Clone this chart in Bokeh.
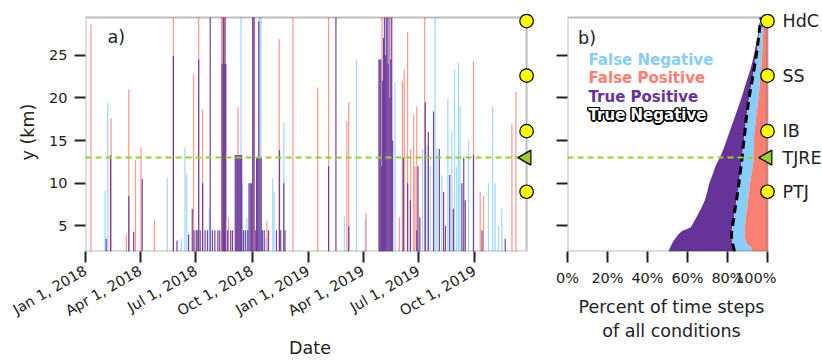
import math
import numpy as np
import pandas as pd
from bokeh.plotting import figure
from bokeh.layouts import row
from bokeh.core.properties import value
from bokeh.models import (Range1d, FixedTicker, DatetimeTickFormatter, PrintfTickFormatter,
                          BoxAnnotation, Label, ColumnDataSource)
from bokeh.embed import file_html
from bokeh.resources import INLINE

# ---------------- data ----------------
start_date = "2018-01-01"
end_day = 723                      # last time step, days after start_date
y_bottom, y_top = 2.0, 29.4

# False negatives: day offset from start_date, top height (km)
fn_day = [32, 36.5, 134, 157, 163, 166, 203, 255, 257, 264.5,
          285.5, 287.5, 296, 307, 309, 325, 424.5, 444, 458.5, 507.5,
          552.5, 560, 565, 573, 576, 584, 594, 600.5, 605, 608.5,
          611.5, 614, 628, 660.5, 667.5, 671.5, 677, 682.5]
fn_top = [9.1, 19.4, 10.7, 3.5, 14.2, 11.0, 7.0, 29.4, 10.0, 6.0,
          29.4, 29.4, 3.5, 10.6, 9.0, 17.1, 6.1, 24.5, 5.8, 21.8,
          14.0, 14.5, 12.0, 29.4, 14.0, 11.0, 19.9, 16.0, 23.3, 12.0,
          24.1, 19.0, 15.0, 10.0, 19.0, 10.0, 5.0, 7.0]

# False positives
fp_day = [9, 42, 67, 71, 82, 91, 113, 144, 177, 185.5,
          192, 223, 225, 229, 234.5, 250, 277, 297.5, 317.5, 340,
          380.5, 398.5, 428.5, 431.5, 460, 486, 500.5, 514.5, 519.5, 522.5,
          528, 533, 538, 540, 543, 556, 636, 647, 652.5, 699,
          705.5]
fp_top = [28.6, 17.6, 4.0, 21.0, 12.7, 14.2, 5.7, 29.4, 22.8, 29.4,
          18.6, 29.4, 29.4, 29.4, 5.9, 18.9, 29.4, 5.6, 26.9, 29.4,
          21.2, 29.4, 17.3, 19.5, 6.5, 29.4, 29.4, 6.0, 22.0, 23.3,
          27.7, 14.0, 18.0, 12.0, 19.0, 29.4, 24.3, 9.0, 8.5, 16.9,
          20.7]

# True positives
tp_day = [34, 41, 71, 79, 93, 144, 150, 169, 175, 178,
          181.5, 183, 185.5, 188, 192, 196, 200, 204.5, 208, 212,
          217, 220, 224, 226, 227.5, 228.5, 230, 233, 238, 241,
          245.5, 247, 248.5, 250, 251.5, 253, 254.5, 256, 259, 262,
          266, 268, 270, 272, 274, 276, 279, 280.5, 282, 284,
          286, 288, 290, 293, 300, 313, 318, 320, 325, 327,
          398.5, 410.5, 431.5, 481, 482.5, 484, 485.5, 487, 488.5, 490,
          491.5, 493, 494.5, 496, 497.5, 499, 500.5, 502, 503.5, 521,
          528, 532.5, 543, 545, 548, 557, 562, 570.5, 580, 587,
          590, 597, 603, 617, 620, 622.5, 636, 650, 688]
tp_top = [3.5, 13.3, 8.5, 4.3, 10.5, 24.9, 3.3, 4.0, 7.0, 4.5,
          4.5, 4.5, 24.5, 4.5, 10.0, 4.5, 4.5, 29.4, 4.5, 4.5,
          4.5, 4.5, 24.0, 29.4, 24.0, 29.4, 24.0, 4.5, 4.5, 4.5,
          13.3, 13.3, 13.3, 13.3, 13.3, 13.3, 13.3, 13.3, 4.5, 4.5,
          4.5, 10.0, 10.0, 10.0, 29.4, 29.4, 4.5, 13.0, 13.0, 29.0,
          13.0, 13.0, 4.5, 4.5, 4.5, 4.5, 13.9, 4.5, 10.0, 4.5,
          12.0, 29.4, 5.0, 24.5, 24.5, 24.5, 12.0, 22.0, 27.0, 29.4,
          25.0, 29.4, 29.4, 24.0, 29.4, 20.0, 24.5, 29.4, 15.0, 13.0,
          10.0, 8.0, 4.5, 12.0, 6.0, 19.5, 16.0, 18.4, 14.0, 9.0,
          5.0, 11.0, 7.0, 10.0, 13.0, 8.0, 13.3, 4.5, 3.5]

date_ticks = ["2018-01-01", "2018-04-01", "2018-07-01", "2018-10-01",
              "2019-01-01", "2019-04-01", "2019-07-01", "2019-10-01"]
y_ticks = [5, 10, 15, 20, 25]
pct_ticks = [0, 20, 40, 60, 80, 100]

stations = ["HdC", "SS", "IB", "TJRE", "PTJ"]
station_y = [29.0, 22.6, 16.1, 13.0, 9.0]
station_marker = ["circle", "circle", "circle", "triangle", "circle"]

# Panel b: percent of time steps per height level
prof_y = [2.0, 2.5, 3.0, 3.5, 4.0, 4.4, 4.6, 4.8, 5.0, 6.0, 7.0, 8.0, 9.0, 10.0, 11.0, 12.0,
          13.0, 14.0, 15.0, 16.0, 17.0, 18.0, 19.0, 20.0, 21.0, 22.0, 23.0, 24.0, 25.0,
          26.0, 27.0, 28.0, 29.0, 29.4]
tn_pct = [50.4, 51.4, 52.4, 53.8, 55.4, 57.2, 59.5, 61.5, 62.0, 64.5, 66.7, 68.7, 69.9, 70.9,
          72.5, 74.0, 76.2, 78.0, 79.5, 81.0, 82.5, 84.0, 85.5, 87.0, 88.3, 89.6, 91.0, 92.2,
          93.2, 94.0, 95.0, 95.6, 96.2, 96.5]
tp_pct = [33.1, 31.6, 30.0, 28.3, 26.6, 24.9, 22.7, 20.8, 20.5, 18.7, 17.1, 15.8, 15.2, 14.8,
          13.7, 12.8, 11.1, 9.7, 8.7, 7.7, 6.6, 5.6, 4.7, 3.8, 3.2, 2.7, 2.0, 1.5,
          1.2, 1.0, 0.5, 0.4, 0.3, 0.3]
fn_pct = [8.5, 8.8, 7.1, 6.7, 6.6, 6.5, 6.5, 6.4, 6.3, 6.0, 6.0, 5.8, 5.7, 5.5,
          5.8, 5.8, 5.9, 5.5, 5.0, 4.8, 4.9, 4.8, 4.8, 4.7, 4.4, 3.9, 3.6, 3.3,
          2.9, 2.5, 2.2, 1.9, 1.5, 1.2]
fp_pct = [8.0, 8.2, 10.5, 11.2, 11.4, 11.4, 11.3, 11.3, 11.2, 10.8, 10.2, 9.7, 9.2, 8.8,
          8.0, 7.4, 6.8, 6.8, 6.8, 6.5, 6.0, 5.6, 5.0, 4.5, 4.1, 3.8, 3.4, 3.0,
          2.7, 2.5, 2.3, 2.1, 2.0, 2.0]

# ---------------- styling ----------------
FONT = "DejaVu Sans"
C_FN, C_FP, C_TP = "#87CEFA", "#FA8072", "#663399"
C_GREEN = "#9ACD32"
INK = "#222222"
DAY_MS = 86400000.0
T0 = pd.Timestamp(start_date).value / 1e6


def ms(days):
    return T0 + np.asarray(days, dtype=float) * DAY_MS


def style_axes(p):
    p.outline_line_color = None
    p.grid.visible = False
    p.background_fill_color = "white"
    p.border_fill_color = "white"
    for ax in p.axis:
        ax.axis_line_color = None
        ax.major_tick_out = 11
        ax.major_tick_in = 0
        ax.major_tick_line_width = 2
        ax.major_tick_line_color = INK
        ax.minor_tick_line_color = None
        ax.major_label_text_font = FONT
        ax.major_label_text_font_size = "14.5px"
        ax.major_label_text_color = INK
        ax.major_label_standoff = 7
        ax.axis_label_text_font = FONT
        ax.axis_label_text_font_size = "17.5px"
        ax.axis_label_text_font_style = "normal"
        ax.axis_label_text_color = INK
        ax.axis_label_standoff = 8


def station_source(xpos):
    return ColumnDataSource(dict(
        x=xpos, y=station_y, marker=station_marker,
        angle=[math.pi / 2 if m == "triangle" else 0 for m in station_marker],
        size=[15 if m == "triangle" else 13.5 for m in station_marker],
        color=[C_GREEN if m == "triangle" else "#FFFF00" for m in station_marker]))


# ---------------- panel a ----------------
p1 = figure(width=548, height=360, x_axis_type="datetime",
            x_range=Range1d(ms(0), ms(end_day + 13)), y_range=Range1d(y_bottom, 30.0),
            output_backend="svg", toolbar_location=None,
            min_border_left=85, min_border_right=14, min_border_top=12, min_border_bottom=99)
style_axes(p1)

bar_w = 2.0 * DAY_MS
p1.vbar(x=ms(fn_day), top=fn_top, bottom=y_bottom, width=bar_w,
        fill_color=C_FN, fill_alpha=0.8, line_color=None)
p1.vbar(x=ms(fp_day), top=fp_top, bottom=y_bottom, width=bar_w,
        fill_color=C_FP, fill_alpha=0.8, line_color=None)
p1.vbar(x=ms(tp_day), top=tp_top, bottom=y_bottom, width=bar_w,
        fill_color=C_TP, fill_alpha=0.9, line_color=None)

tjre_y = station_y[stations.index("TJRE")]
p1.line(x=ms([0, end_day]), y=[tjre_y, tjre_y], line_color=C_GREEN, line_width=2, line_dash="6 4")

p1.add_layout(BoxAnnotation(left=ms(0), right=ms(end_day), bottom=y_bottom, top=y_top,
                            fill_color=None, line_color=INK, line_width=2))

tick_ms = [pd.Timestamp(d).value / 1e6 for d in date_ticks]
p1.xaxis.ticker = FixedTicker(ticks=tick_ms)
fmt = "%b %-d, %Y"
p1.xaxis.formatter = DatetimeTickFormatter(microseconds=fmt, milliseconds=fmt, seconds=fmt,
                                           minsec=fmt, minutes=fmt, hourmin=fmt, hours=fmt,
                                           days=fmt, months=fmt, years=fmt)
p1.xaxis.major_label_orientation = math.pi / 6
p1.xaxis.axis_label = "Date"
p1.xaxis.axis_label_standoff = 9
p1.yaxis.ticker = FixedTicker(ticks=y_ticks)
p1.yaxis.axis_label = "y (km)"

r1 = p1.scatter(x="x", y="y", marker="marker", angle="angle", size="size",
                fill_color="color", line_color="black", line_width=1.2,
                source=station_source(list(ms([end_day] * len(stations)))))
r1.level = "overlay"

p1.add_layout(Label(x=ms(36), y=27.15, text="a)", text_font=FONT, text_font_size="17.5px",
                    text_color=INK, text_baseline="middle"))

# ---------------- panel b ----------------
p2 = figure(width=228, height=360, x_range=Range1d(0, 104), y_range=Range1d(y_bottom, 30.0),
            output_backend="svg", toolbar_location=None,
            min_border_left=19, min_border_right=1, min_border_top=12, min_border_bottom=99)
style_axes(p2)

tn = np.array(tn_pct)
edge_tp = tn + np.array(tp_pct)
edge_fn = edge_tp + np.array(fn_pct)
edge_fp = edge_fn + np.array(fp_pct)

p2.harea(x1=tn, x2=edge_tp, y=prof_y, fill_color=C_TP)
p2.harea(x1=edge_tp, x2=edge_fn, y=prof_y, fill_color=C_FN)
p2.harea(x1=edge_fn, x2=edge_fp, y=prof_y, fill_color=C_FP)
p2.line(x=edge_tp, y=prof_y, line_color="black", line_width=3, line_dash="8 5")

p2.line(x=[0, 100], y=[tjre_y, tjre_y], line_color=C_GREEN, line_width=2, line_dash="6 4")
p2.add_layout(BoxAnnotation(left=0, right=100, bottom=y_bottom, top=y_top,
                            fill_color=None, line_color=INK, line_width=2))

p2.xaxis.ticker = FixedTicker(ticks=pct_ticks)
p2.xaxis.formatter = PrintfTickFormatter(format="%d%%")
p2.xaxis.axis_label = "Percent of time steps\nof all conditions"
p2.yaxis.ticker = FixedTicker(ticks=y_ticks)
p2.yaxis.major_label_overrides = {t: "" for t in y_ticks}

r2 = p2.scatter(x="x", y="y", marker="marker", angle="angle", size="size",
                fill_color="color", line_color="black", line_width=1.2,
                source=station_source([100] * len(stations)))
r2.level = "overlay"

p2.add_layout(Label(x=5.3, y=27.03, text="b)", text_font=FONT, text_font_size="17.5px",
                    text_color=INK, text_baseline="middle"))

legend_items = [("False Negative", C_FN, 24.47), ("False Positive", C_FP, 22.32),
                ("True Positive", C_TP, 20.14)]
for txt, col, ly in legend_items:
    p2.add_layout(Label(x=10.5, y=ly, text=txt, text_font=FONT, text_font_size="15px",
                        text_font_style="bold", text_color=col, text_baseline="middle"))

tn_y = 17.96
for dx, dy in [(-1.6, 0), (1.6, 0), (0, -1.6), (0, 1.6), (-1.2, -1.2), (1.2, 1.2), (-1.2, 1.2), (1.2, -1.2)]:
    p2.add_layout(Label(x=10.5, y=tn_y, x_offset=dx, y_offset=dy, text="True Negative",
                        text_font=FONT, text_font_size="15px", text_font_style="bold",
                        text_color="black", text_baseline="middle"))
p2.add_layout(Label(x=10.5, y=tn_y, text="True Negative", text_font=FONT, text_font_size="15px",
                    text_font_style="bold", text_color="white", text_baseline="middle"))

# ---------------- station names strip ----------------
p3 = figure(width=46, height=360, x_range=Range1d(0, 46), y_range=Range1d(y_bottom, 30.0),
            output_backend="svg", toolbar_location=None,
            x_axis_location=None, y_axis_location=None,
            min_border_left=0, min_border_right=0, min_border_top=12, min_border_bottom=99)
p3.outline_line_color = None
p3.grid.visible = False
p3.text(x=[6] * len(stations), y=station_y, text=stations, text_font=value(FONT),
        text_font_size="17.5px", text_color=INK, text_baseline="middle", text_align="left")

layout = row(p1, p2, p3)
open("out.html", "w").write(file_html(layout, INLINE))
